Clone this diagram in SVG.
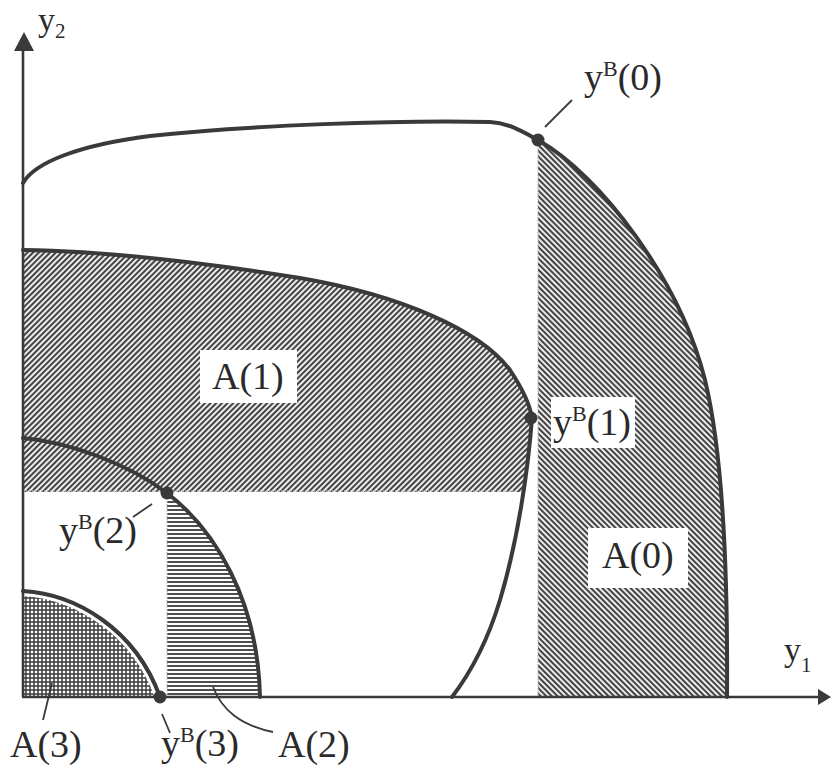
<svg xmlns="http://www.w3.org/2000/svg" width="831" height="772" viewBox="0 0 831 772">
<style>
.curve{fill:none;stroke:#3a3a3a;stroke-width:4;stroke-linecap:round;stroke-linejoin:round}
.axis{fill:none;stroke:#3a3a3a;stroke-width:2.6}
.dot{fill:#3a3a3a}
.dotted{fill:none;stroke:#bbb;stroke-width:1.5;stroke-dasharray:1.5 1.5}
.lead{fill:none;stroke:#3a3a3a;stroke-width:1.8}
.lbl{font-family:"Liberation Serif","Times New Roman",serif;font-size:38px;fill:#2a2a2a}
.ax{font-family:"Liberation Serif","Times New Roman",serif;font-size:34px;fill:#2a2a2a}
.box{fill:#fff}
</style>
<defs>
<pattern id="hatchDown" width="4" height="4" patternUnits="userSpaceOnUse" patternTransform="rotate(45)">
<rect width="4" height="4" fill="#fff"/><line x1="0" y1="2" x2="4" y2="2" stroke="#444" stroke-width="2.2"/>
</pattern>
<pattern id="hatchUp" width="4" height="4" patternUnits="userSpaceOnUse" patternTransform="rotate(-45)">
<rect width="4" height="4" fill="#fff"/><line x1="0" y1="2" x2="4" y2="2" stroke="#444" stroke-width="2.2"/>
</pattern>
<pattern id="hatchH" width="4" height="4" patternUnits="userSpaceOnUse">
<rect width="4" height="4" fill="#fff"/><line x1="0" y1="2" x2="4" y2="2" stroke="#3a3a3a" stroke-width="1.8"/>
</pattern>
<pattern id="grid" width="4" height="4" patternUnits="userSpaceOnUse">
<rect width="4" height="4" fill="#fff"/><line x1="0" y1="2" x2="4" y2="2" stroke="#3a3a3a" stroke-width="1.5"/><line x1="2" y1="0" x2="2" y2="4" stroke="#3a3a3a" stroke-width="1.5"/>
</pattern>
<clipPath id="clipA1"><rect x="0" y="0" width="831" height="492"/></clipPath>
</defs>
<rect width="831" height="772" fill="#fff"/>

<g id="A0-region">
<path d="M538,140 C600,175 680,280 705,380 C722,450 728,560 727,697 L538,697 Z" fill="url(#hatchDown)"/>
<line class="dotted" x1="538" y1="142" x2="538" y2="697"/>
</g>
<g id="A1-region">
<path clip-path="url(#clipA1)" d="M23,250 C100,251 200,262 300,278 C400,295 480,330 510,370 C522,388 530,405 532,418 C528,470 518,540 500,600 C485,650 465,680 452,697 L23,697 Z" fill="url(#hatchUp)"/>
<line class="dotted" x1="23" y1="491" x2="516" y2="491"/>
</g>
<g id="A2-region">
<path d="M167,493 C215,530 258,600 260,697 L167,697 Z" fill="url(#hatchH)"/>
<line class="dotted" x1="167" y1="495" x2="167" y2="697"/>
</g>
<g id="A3-region">
<path d="M23,591 C75,594 135,628 160,697 L23,697 Z" fill="url(#grid)"/>
<path d="M23,591 C75,594 135,628 160,697" fill="none" stroke="#fff" stroke-width="10"/>
</g>

<g id="curves">
<path id="curve0" class="curve" d="M23,183 C35,162 80,145 150,136 C250,125 400,120 490,122 C510,123 525,133 538,140 C600,175 680,280 705,380 C722,450 728,560 727,697"/>
<path id="curve1" class="curve" d="M23,250 C100,251 200,262 300,278 C400,295 480,330 510,370 C522,388 530,405 532,418 C528,470 518,540 500,600 C485,650 465,680 452,697"/>
<path id="curve2" class="curve" d="M23,438 C70,442 130,465 167,493 C215,530 258,600 260,697"/>
<path id="curve3" class="curve" d="M23,591 C75,594 135,628 160,697"/>
</g>

<g id="axes">
<line class="axis" x1="23" y1="697" x2="23" y2="48"/>
<path d="M24,32 L14,51 L34,51 Z" fill="#3a3a3a"/>
<line class="axis" x1="22" y1="697" x2="818" y2="697"/>
<path d="M831,697 L818,689 L818,705 Z" fill="#3a3a3a"/>
<text class="ax" x="38" y="31">y<tspan font-size="21" style="font-size:21px" dy="7">2</tspan></text>
<text class="ax" x="784" y="661">y<tspan style="font-size:21px" dy="11">1</tspan></text>
</g>

<g id="yB0"><circle class="dot" cx="538" cy="140" r="6.5"/><text class="lbl" x="584" y="90">y<tspan style="font-size:22px" dy="-14">B</tspan><tspan dy="14">(0)</tspan></text></g>
<g id="yB1"><circle class="dot" cx="531" cy="418" r="6.5"/><rect class="box" x="551" y="397" width="84" height="51"/><text class="lbl" x="553" y="435">y<tspan style="font-size:22px" dy="-14">B</tspan><tspan dy="14">(1)</tspan></text></g>
<g id="yB2"><circle class="dot" cx="167" cy="493" r="6.5"/><text class="lbl" x="59" y="543">y<tspan style="font-size:22px" dy="-14">B</tspan><tspan dy="14">(2)</tspan></text></g>
<g id="yB3"><circle class="dot" cx="160" cy="697" r="6.5"/><text class="lbl" x="161" y="756">y<tspan style="font-size:22px" dy="-14">B</tspan><tspan dy="14">(3)</tspan></text></g>

<g id="A0"><rect class="box" x="588" y="528" width="100" height="60"/><text class="lbl" x="602" y="568">A(0)</text></g>
<g id="A1"><rect class="box" x="200" y="350" width="97" height="53"/><text class="lbl" x="212" y="389">A(1)</text></g>
<g id="A2"><text class="lbl" x="278" y="757">A(2)</text></g>
<g id="A3"><text class="lbl" x="10" y="757">A(3)</text></g>

<g id="connectors">
<line class="lead" x1="545" y1="127" x2="572" y2="100"/>
<line class="lead" x1="133" y1="517" x2="152" y2="504"/>
<line class="lead" x1="162" y1="714" x2="170" y2="733"/>
<line class="lead" x1="52" y1="683" x2="43" y2="720"/>
<path class="lead" d="M213,687 C222,710 240,725 273,732"/>
</g>
</svg>
